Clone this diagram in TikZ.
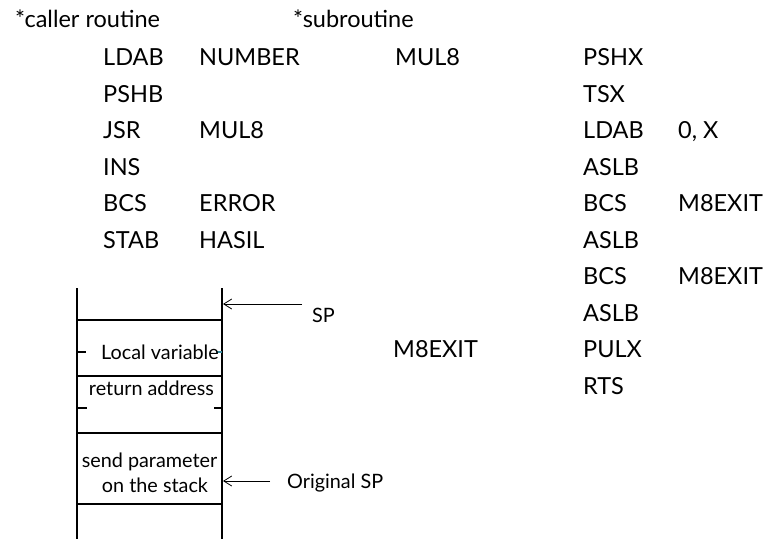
\documentclass[tikz,border=0pt]{standalone}
\usepackage{fontspec}
\setmainfont{Lato}
\usetikzlibrary{arrows.meta}
\begin{document}
\begin{tikzpicture}[x=1pt,y=-1pt,
  code/.style={anchor=base west,inner sep=0pt,font=\fontsize{23.5}{26}\selectfont},
  lbl/.style={anchor=base,inner sep=0pt,font=\fontsize{19.8}{22}\selectfont},
  lblw/.style={anchor=base west,inner sep=0pt,font=\fontsize{19.8}{22}\selectfont},
  stackline/.style={line width=1.6pt},
  tick/.style={line width=1.4pt},
  ptr/.style={line width=0.8pt,-{Straight Barb[length=8pt,width=10pt]}}]
\useasboundingbox (0,0) rectangle (772,539);
% headers
\node[code] (hcaller) at (15,27) {*caller routine};
\node[code] (hsub) at (293,27) {*subroutine};
% caller code
\node[code] (c1a) at (103,65.5) {LDAB};
\node[code] (c1b) at (199,65.5) {NUMBER};
\node[code] (c2a) at (103,102) {PSHB};
\node[code] (c3a) at (103,138.5) {JSR};
\node[code] (c3b) at (199,138.5) {MUL8};
\node[code] (c4a) at (103,175) {INS};
\node[code] (c5a) at (103,211.5) {BCS};
\node[code] (c5b) at (199,211.5) {ERROR};
\node[code] (c6a) at (103,248) {STAB};
\node[code] (c6b) at (199,248) {HASIL};
% subroutine labels
\node[code] (lmul) at (395,65.5) {MUL8};
\node[code] (lexit) at (393,357.5) {M8EXIT};
% subroutine code
\node[code] (s1) at (583,65.5) {PSHX};
\node[code] (s2) at (583,102) {TSX};
\node[code] (s3) at (583,138.5) {LDAB};
\node[code] (s3b) at (678,138.5) {0, X};
\node[code] (s4) at (583,175) {ASLB};
\node[code] (s5) at (583,211.5) {BCS};
\node[code] (s5b) at (678,211.5) {M8EXIT};
\node[code] (s6) at (583,248) {ASLB};
\node[code] (s7) at (583,284.5) {BCS};
\node[code] (s7b) at (678,284.5) {M8EXIT};
\node[code] (s8) at (583,321) {ASLB};
\node[code] (s9) at (583,357.5) {PULX};
\node[code] (s10) at (583,394) {RTS};
% stack
\draw[stackline] (77,288) -- (77,539);
\draw[stackline] (222,288) -- (222,539);
\foreach \yy in {320,376,433,504} \draw[stackline] (77,\yy) -- (222,\yy);
\draw[tick] (77,352) -- (86,352);
\draw[tick,draw={rgb,255:red,60;green,140;blue,160}] (216,352) -- (222,352);
\draw[tick] (77,408) -- (87,408);
\draw[tick] (214,408) -- (222,408);
\node[lbl] (tlocal) at (160,359) {Local variable};
\node[lbl] (tret) at (151.5,395) {return address};
\node[lbl] (tsend1) at (149.5,467) {send parameter};
\node[lbl] (tsend2) at (155,492) {on the stack};
% pointers
\coordinate (spfrom) at (302,304);
\coordinate (spto) at (223,304);
\coordinate (ospfrom) at (270,481);
\coordinate (ospto) at (223,481);
\draw[ptr] (spfrom) -- (spto);
\draw[ptr] (ospfrom) -- (ospto);
\node[lblw] (tsp) at (312,322) {SP};
\node[lblw] (tosp) at (287,488) {Original SP};
\end{tikzpicture}
\end{document}
